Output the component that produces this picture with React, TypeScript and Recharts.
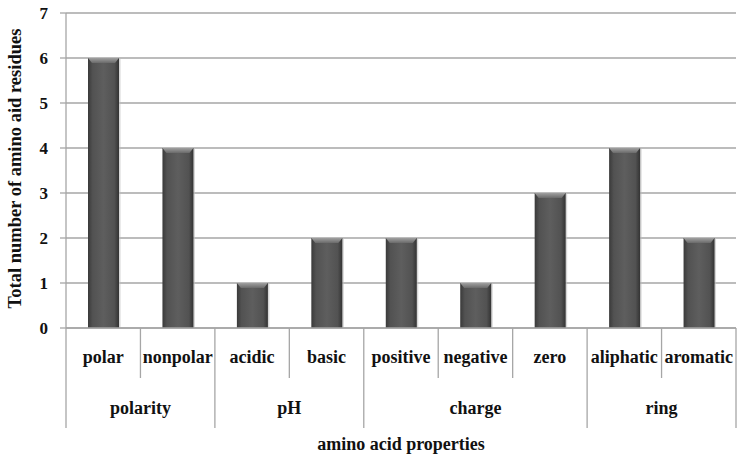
import React from 'react';
import { BarChart, Bar, XAxis, YAxis, CartesianGrid } from 'recharts';

const categories = ['polar', 'nonpolar', 'acidic', 'basic', 'positive', 'negative', 'zero', 'aliphatic', 'aromatic'];
const groups = ['polarity', 'polarity', 'pH', 'pH', 'charge', 'charge', 'charge', 'ring', 'ring'];
const residues = [6, 4, 1, 2, 2, 1, 3, 4, 2];
const yTicks = [0, 1, 2, 3, 4, 5, 6, 7];

const data = categories.map((name, i) => ({ name, group: groups[i], value: residues[i] }));

const FONT = "'Liberation Serif', 'Times New Roman', serif";
const AXIS = '#a6a6a6';
const labelStyle = { fontFamily: FONT, fontWeight: 700 };

// bar with a horizontal shading and a bevelled top, like the office 3D look
const BevelBar = (props: any) => {
  const { x, y, width, height } = props;
  if (!height || height <= 0) return null;
  const b = Math.min(5, height / 2);
  return (
    <g>
      <rect x={x + 1.5} y={y + 1} width={width} height={height - 1} fill="#bdbdbd" opacity={0.6} />
      <rect x={x} y={y} width={width} height={height} fill="url(#barShade)" />
      <polygon
        points={`${x},${y} ${x + width},${y} ${x + width - 4},${y + b} ${x + 4},${y + b}`}
        fill="url(#barTop)"
      />
    </g>
  );
};

const CategoryTick = (props: any) => {
  const { x, y, payload, index } = props;
  const half = payload.offset ?? 37.2;
  const left = x - half;
  const right = x + half;
  const isGroupStart = index === 0 || groups[index] !== groups[index - 1];
  const isLast = index === categories.length - 1;

  // group label sits in the middle of its span
  const members = groups.map((g, i) => (g === groups[index] ? i : -1)).filter((i) => i >= 0);
  const first = members[0];
  const last = members[members.length - 1];
  const mid = (first + last) / 2;
  let groupLabel: React.ReactNode = null;
  if (index === Math.floor(mid)) {
    const cx = x + (mid - index) * half * 2;
    groupLabel = (
      <text x={cx} y={y + 86} textAnchor="middle" style={labelStyle} fontSize={18} fill="#111">
        {groups[index]}
      </text>
    );
  }

  return (
    <g>
      <line x1={left} y1={y} x2={left} y2={y + (isGroupStart ? 100 : 50)} stroke={AXIS} strokeWidth={1.3} />
      {isLast && <line x1={right} y1={y} x2={right} y2={y + 100} stroke={AXIS} strokeWidth={1.3} />}
      <text x={x} y={y + 35} textAnchor="middle" style={labelStyle} fontSize={18} fill="#111">
        {payload.value}
      </text>
      {groupLabel}
    </g>
  );
};

export default function App() {
  return (
    <div style={{ position: 'absolute', left: 0, top: 0, background: '#fff' }}>
      <BarChart width={744} height={458} data={data} margin={{ top: 13, right: 8, bottom: 0, left: 0 }}>
        <defs>
          <linearGradient id="barShade" x1="0" y1="0" x2="1" y2="0">
            <stop offset="0%" stopColor="#3a3a3a" />
            <stop offset="15%" stopColor="#525252" />
            <stop offset="50%" stopColor="#5e5e5e" />
            <stop offset="85%" stopColor="#525252" />
            <stop offset="100%" stopColor="#333333" />
          </linearGradient>
          <linearGradient id="barTop" x1="0" y1="0" x2="0" y2="1">
            <stop offset="0%" stopColor="#a0a0a0" />
            <stop offset="100%" stopColor="#6a6a6a" />
          </linearGradient>
        </defs>
        <CartesianGrid vertical={false} stroke={AXIS} strokeWidth={1.3} />
        <XAxis
          dataKey="name"
          interval={0}
          height={130}
          stroke={AXIS}
          strokeWidth={1.3}
          tickLine={false}
          tickSize={0}
          tickMargin={0}
          tick={<CategoryTick />}
          label={{
            value: 'amino acid properties',
            position: 'insideBottom',
            offset: 8,
            style: labelStyle,
            fontSize: 18,
            fill: '#111',
          }}
        />
        <YAxis
          width={66}
          domain={[0, 7]}
          ticks={yTicks}
          interval={0}
          stroke={AXIS}
          strokeWidth={1.3}
          tickSize={6}
          tickMargin={12}
          tick={{ style: labelStyle, fontSize: 17, fill: '#111' }}
          label={{
            value: 'Total number of amino aid residues',
            angle: -90,
            position: 'center',
            dx: -19,
            dy: -2,
            style: labelStyle,
            fontSize: 18.5,
            fill: '#111',
          }}
        />
        <Bar dataKey="value" barSize={31} shape={<BevelBar />} isAnimationActive={false} />
      </BarChart>
    </div>
  );
}
